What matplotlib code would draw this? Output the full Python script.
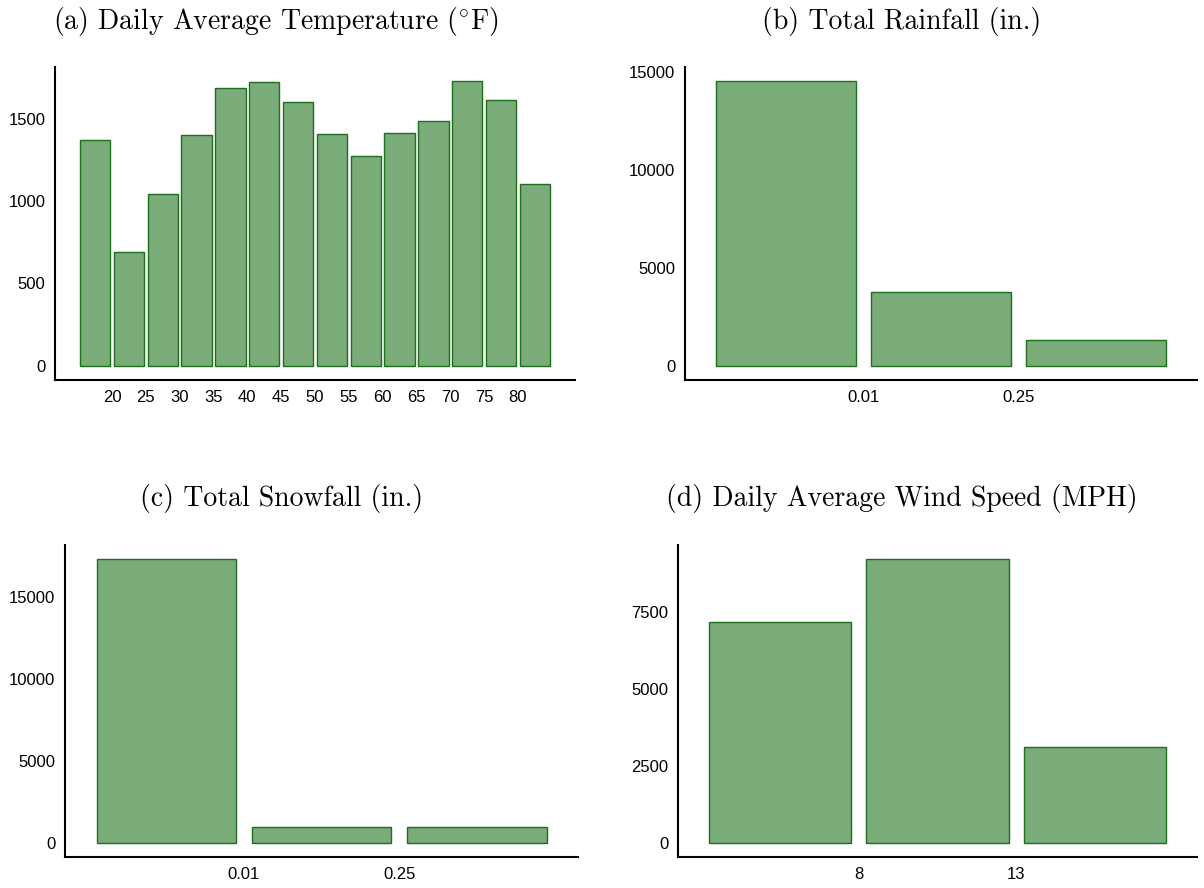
import matplotlib
matplotlib.use("Agg")
import matplotlib.pyplot as plt
import numpy as np

# ---- data ----
temp_counts = [1369, 692, 1041, 1402, 1687, 1725, 1602, 1408, 1272, 1414, 1487, 1729, 1612, 1104]
temp_edges = ['20', '25', '30', '35', '40', '45', '50', '55', '60', '65', '70', '75', '80']

rain_counts = [14511, 3768, 1304]
rain_edges = ['0.01', '0.25']

snow_counts = [17311, 990, 975]
snow_edges = ['0.01', '0.25']

wind_counts = [7189, 9216, 3109]
wind_edges = ['8', '13']

titles = [r'(a) Daily Average Temperature $(^{\circ}\mathrm{F})$',
          r'(b) Total Rainfall (in.)',
          r'(c) Total Snowfall (in.)',
          r'(d) Daily Average Wind Speed (MPH)']
yticks_list = [[0, 500, 1000, 1500],
               [0, 5000, 10000, 15000],
               [0, 5000, 10000, 15000],
               [0, 2500, 5000, 7500]]

plt.rcParams['mathtext.fontset'] = 'cm'
plt.rcParams['axes.unicode_minus'] = False

W, H = 1204, 888
fig = plt.figure(figsize=(W / 100, H / 100), dpi=100)

# pixel boxes: left, right, top, bottom of spines
boxes = [(55, 575, 67, 380), (685, 1197, 67, 380),
         (65, 578, 545, 857), (678, 1197, 545, 857)]
xmargins = [0.053, 0.069, 0.07, 0.067]
title_pos = [(276, 22), (902, 22), (282, 498), (902, 498)]

datasets = [(temp_counts, temp_edges), (rain_counts, rain_edges),
            (snow_counts, snow_edges), (wind_counts, wind_edges)]

face = '#79ac78'
edge = '#1e6e1e'
bw = 0.9

for i, (counts, edges) in enumerate(datasets):
    l, r, t, b = boxes[i]
    ax = fig.add_axes([l / W, 1 - b / H, (r - l) / W, (b - t) / H])
    x = np.arange(len(counts))
    ax.bar(x, counts, width=bw, color=face, edgecolor=edge, linewidth=1.0)
    span = (len(counts) - 1) + bw
    m = xmargins[i] * span
    ax.set_xlim(-bw / 2 - m, len(counts) - 1 + bw / 2 + m)
    mx = max(counts)
    ax.set_ylim(-0.05 * mx, 1.05 * mx)
    ax.set_xticks(np.arange(len(edges)) + 0.5)
    ax.set_xticklabels(edges)
    ax.set_yticks(yticks_list[i])
    ax.set_yticklabels([str(v) for v in yticks_list[i]])
    for s in ['top', 'right']:
        ax.spines[s].set_visible(False)
    for s in ['left', 'bottom']:
        ax.spines[s].set_linewidth(1.5)
        ax.spines[s].set_color('black')
    ax.tick_params(length=0, labelsize=12, pad=7)
    for lab in ax.get_xticklabels() + ax.get_yticklabels():
        lab.set_fontfamily('Liberation Sans')
    ax.patch.set_visible(False)
    tx, ty = title_pos[i]
    fig.text(tx / W, 1 - ty / H, titles[i], ha='center', va='center',
             fontsize=20, fontfamily='cmr10')

fig.savefig('out.png', dpi=100)
